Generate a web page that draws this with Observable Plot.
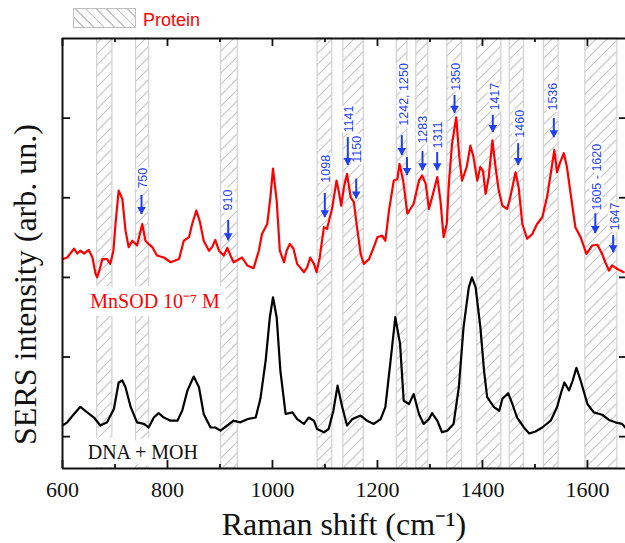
<!DOCTYPE html>
<html><head><meta charset="utf-8">
<script src="https://cdn.jsdelivr.net/npm/d3@7"></script>
<script src="https://cdn.jsdelivr.net/npm/@observablehq/plot@0.6"></script>
<style>
body{margin:0;background:#fff;}
#legend{position:relative;width:625px;height:30px;}
#swatch{position:absolute;left:73px;top:8px;width:61px;height:18px;border:1px solid #c0c0c0;background:repeating-linear-gradient(45deg,#fff 0 6px,#c4c4c4 6px 7.3px);}
#ltext{position:absolute;left:143px;top:11px;font:18px/18px "Liberation Sans",Arial,sans-serif;color:#f00;}
</style></head><body>
<div id="legend"><div id="swatch"></div><span id="ltext">Protein</span></div>
<div id="chart"></div>
<script>
// Spectra: [Raman shift (cm-1), intensity (arb. units)]
const mnsodSpectrum = [[601,44.6],[609,45.0],[622,47.2],[628,46.0],[634,46.7],[641,46.0],[650,46.9],[657,45.0],[663,40.9],[666,40.0],[671,42.1],[676,44.6],[685,44.6],[691,43.4],[697,46.7],[701,53.5],[707,61.8],[714,59.7],[720,51.8],[726,47.6],[733,49.2],[742,48.0],[752,53.4],[758,49.2],[764,48.4],[771,47.6],[780,45.5],[793,45.0],[806,43.8],[822,44.6],[831,49.2],[841,50.1],[847,53.4],[855,56.8],[862,53.8],[869,49.2],[879,46.7],[885,47.6],[891,49.4],[898,46.7],[907,45.5],[914,47.4],[920,45.5],[926,43.8],[942,45.0],[952,43.0],[964,42.3],[974,46.7],[980,50.9],[990,53.4],[996,60.1],[1001,67.3],[1008,59.3],[1014,46.7],[1022,43.8],[1027,46.7],[1033,48.4],[1040,47.2],[1047,43.4],[1060,41.3],[1066,42.5],[1072,45.0],[1079,43.4],[1084,41.3],[1090,45.0],[1098,52.6],[1104,52.2],[1114,57.6],[1122,64.3],[1126,61.8],[1131,58.0],[1136,62.6],[1142,66.0],[1149,60.1],[1155,58.9],[1161,52.6],[1168,45.9],[1174,43.4],[1184,44.6],[1193,47.6],[1200,50.1],[1209,50.5],[1215,49.2],[1222,56.8],[1231,64.3],[1238,64.7],[1242,68.5],[1249,64.3],[1257,56.0],[1269,58.5],[1279,64.3],[1285,65.6],[1292,63.5],[1298,57.2],[1304,60.1],[1314,65.2],[1320,59.3],[1326,50.1],[1332,53.4],[1336,63.5],[1342,73.5],[1350,80.2],[1356,70.2],[1361,64.3],[1370,67.7],[1377,73.1],[1383,70.2],[1390,64.3],[1396,67.7],[1401,66.8],[1406,61.0],[1412,65.2],[1419,74.4],[1425,67.7],[1431,61.8],[1438,58.0],[1447,57.2],[1453,60.1],[1463,66.4],[1469,62.6],[1476,53.4],[1485,49.7],[1495,50.9],[1504,53.4],[1514,55.1],[1523,60.1],[1530,66.0],[1537,72.0],[1542,66.4],[1547,68.5],[1555,71.2],[1561,67.7],[1568,61.0],[1577,52.6],[1587,50.1],[1598,45.9],[1609,48.0],[1619,48.2],[1628,45.9],[1634,43.8],[1641,41.7],[1647,43.0],[1657,42.1],[1669,41.3]];
const dnaSpectrum = [[600,2.8],[609,3.6],[622,5.7],[634,7.5],[647,6.1],[660,4.8],[672,2.8],[685,3.6],[698,7.0],[707,13.6],[714,14.1],[720,12.4],[730,7.4],[742,3.6],[755,3.2],[764,2.3],[774,4.8],[783,5.9],[793,4.8],[806,4.0],[819,4.0],[828,6.5],[838,11.6],[850,15.1],[860,12.4],[869,5.7],[882,2.3],[891,2.3],[901,1.5],[914,2.8],[926,4.0],[939,3.6],[952,4.4],[968,4.8],[977,9.5],[987,19.1],[995,30.0],[1001,35.0],[1008,30.0],[1015,16.6],[1025,5.7],[1038,6.1],[1047,4.4],[1060,3.2],[1069,4.8],[1079,4.0],[1085,1.9],[1098,1.1],[1107,1.9],[1116,6.5],[1124,12.8],[1133,7.4],[1142,2.8],[1152,4.4],[1168,5.3],[1180,4.0],[1193,3.2],[1206,4.4],[1215,7.4],[1225,19.1],[1234,30.0],[1243,23.3],[1250,9.0],[1260,8.2],[1269,10.7],[1279,5.7],[1288,3.2],[1298,4.4],[1304,5.9],[1314,4.0],[1323,1.1],[1333,1.5],[1345,3.2],[1355,12.4],[1364,27.5],[1374,37.5],[1380,40.0],[1387,37.5],[1396,27.5],[1403,16.6],[1409,9.9],[1422,7.4],[1432,6.5],[1438,9.5],[1449,10.9],[1457,8.2],[1466,4.8],[1479,2.3],[1489,0.8],[1501,1.3],[1514,2.3],[1530,4.0],[1542,7.4],[1550,11.1],[1556,13.6],[1565,11.6],[1572,14.1],[1579,17.3],[1587,14.1],[1600,8.2],[1612,6.1],[1628,5.5],[1641,4.2],[1653,3.6],[1666,3.2],[1672,2.3]];

// Protein bands (cm-1)
const proteinBands = [[666,695],[740,765],[902,934],[1086,1114],[1135,1174],[1237,1257],[1274,1297],[1333,1361],[1390,1436],[1452,1479],[1517,1545],[1596,1657]];

// Peak annotations
const annLabels = ["750","910","1098","1141","1150","1242, 1250","1283","1311","1350","1417","1460","1536","1605 - 1620","1647"];
const annTextX  = [753,916,1102,1145,1161,1250,1287,1315,1350,1424,1472,1535,1619,1653];
const annTextY  = [62.3,56.8,63.8,76.4,68.8,78.1,73.6,72.4,86.9,81.9,75.1,81.9,56.8,51.8];
const arrowX    = [750.5,915.7,1099.7,1143.5,1159.5,1246.4,1256.3,1285.8,1313.8,1346.8,1419.7,1468,1536,1615,1649];
const arrowTop  = [60.6,54.3,61.1,75.1,64.7,75.6,70.1,71.6,71.4,85.7,80.7,73.6,79.9,56.0,50.5];
const arrowTip  = [55.8,49.2,55.0,68.1,59.7,70.6,65.6,66.8,66.8,81.2,76.4,68.1,75.1,51.0,46.2];

// Sample labels
const sampleNames  = ["MnSOD 10\u207B\u2077 M", "DNA + MOH"];
const sampleColors = ["#f00", "#111"];
const sampleX = [653, 648];
const sampleY = [32.2, -5.5];

// Ticks and titles
const xMajor = [600, 800, 1000, 1200, 1400, 1600];
const xMinor = [700, 900, 1100, 1300, 1500];
const yTicks = [0, 20, 40, 60, 80];
const xTitle = "Raman shift (cm\u207B\u00B9)";
const yTitle = "SERS intensity (arb. un.)";

const red = mnsodSpectrum.map(([x, y]) => ({x, y}));
const black = dnaSpectrum.map(([x, y]) => ({x, y}));
const bands = proteinBands.map(([a, b]) => ({a, b}));
const ann = annLabels.map((label, i) => ({label, x: annTextX[i], y: annTextY[i]}));
const arrows = arrowX.map((x, i) => ({x, top: arrowTop[i], tip: arrowTip[i]}));
const samples = sampleNames.map((name, i) => ({name, color: sampleColors[i], x: sampleX[i], y: sampleY[i]}));

const blue = "#1f3ff0";
const innerH = 513 - 8 - 75;
const innerW = 625 - 62;

const chart = Plot.plot({
  width: 625, height: 513,
  marginTop: 8, marginBottom: 75, marginLeft: 62, marginRight: 0,
  x: {domain: [600, 1672.5], axis: null},
  y: {domain: [-8, 100], axis: null},
  style: {fontFamily: "Liberation Serif, Times New Roman, serif", background: "#fff", overflow: "visible"},
  marks: [
    Plot.rect(bands, {x1: "a", x2: "b", fill: "url(#hatch)", stroke: "#d4d4d4", strokeWidth: 1.3}),
    Plot.text(samples, {x: "x", y: "y", text: "name", fill: "color", textAnchor: "start", lineAnchor: "bottom",
      fontSize: 20, stroke: "white", strokeWidth: 16, strokeLinejoin: "round"}),
    Plot.text(ann, {x: "x", y: "y", text: "label", rotate: -90, textAnchor: "start", lineAnchor: "middle",
      fontFamily: "Liberation Sans, Arial, sans-serif", fontSize: 12.5, fill: blue, stroke: "white", strokeWidth: 5}),
    Plot.line(black, {x: "x", y: "y", stroke: "#000", strokeWidth: 2.2, clip: true}),
    Plot.line(red, {x: "x", y: "y", stroke: "#f00", strokeWidth: 2.2, clip: true}),
    Plot.ruleX(arrows, {x: "x", y1: "tip", y2: "top", stroke: blue, strokeWidth: 2}),
    Plot.dot(arrows, {x: "x", y: "tip", symbol: "triangle", rotate: 180, r: 3.2, fill: blue, stroke: null, dy: -5}),
    Plot.ruleX([600], {stroke: "#111", strokeWidth: 2}),
    Plot.ruleY([-8, 100], {stroke: "#111", strokeWidth: 2}),
    Plot.ruleX(xMajor, {insetTop: innerH - 8, stroke: "#111", strokeWidth: 1.8}),
    Plot.ruleX(xMinor, {insetTop: innerH - 4, stroke: "#111", strokeWidth: 1.8}),
    Plot.ruleX(xMajor, {insetBottom: innerH - 8, stroke: "#111", strokeWidth: 1.8}),
    Plot.ruleX(xMinor, {insetBottom: innerH - 4, stroke: "#111", strokeWidth: 1.8}),
    Plot.ruleY(yTicks, {insetRight: innerW - 8, stroke: "#111", strokeWidth: 1.8}),
    Plot.ruleY(yTicks, {insetLeft: innerW - 6, stroke: "#111", strokeWidth: 1.8}),
    Plot.axisX(xMajor, {tickSize: 0, tickPadding: 13, fontSize: 22, tickFormat: d => String(d), label: null, fill: "#111"}),
    Plot.text([xTitle], {text: d => d, frameAnchor: "bottom", textAnchor: "middle", dy: 66, lineAnchor: "bottom", fontSize: 32, fill: "#111"}),
    Plot.text([yTitle], {text: d => d, frameAnchor: "left", textAnchor: "middle", rotate: -90, dx: -27, dy: 31, lineAnchor: "bottom", fontSize: 32, fill: "#111"})
  ]
});

d3.select(chart).insert("defs", ":first-child").html(
  '<pattern id="hatch" patternUnits="userSpaceOnUse" width="11" height="11">' +
  '<path d="M-1,1 L1,-1 M0,11 L11,0 M10,12 L12,10" stroke="#c6c6c6" stroke-width="1.2" fill="none"/></pattern>'
);
document.getElementById("chart").appendChild(chart);
</script></body></html>
